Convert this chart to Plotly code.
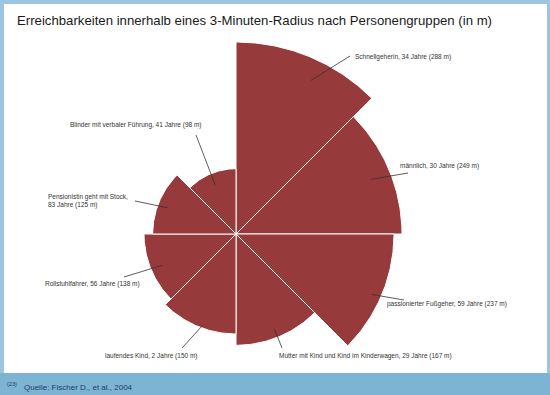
import numpy as np
import plotly.graph_objects as go

# ---- data ----
labels = [
    "Schnellgeherin, 34 Jahre (288 m)",
    "männlich, 30 Jahre (249 m)",
    "passionierter Fußgeher, 59 Jahre (237 m)",
    "Mutter mit Kind und Kind im Kinderwagen, 29 Jahre (167 m)",
    "laufendes Kind, 2 Jahre (150 m)",
    "Rollstuhlfahrer, 56 Jahre (138 m)",
    "Pensionistin geht mit Stock,<br>83 Jahre (125 m)",
    "Blinder mit verbaler Führung, 41 Jahre (98 m)",
]
distances = [288, 249, 237, 167, 150, 138, 125, 98]
title = "Erreichbarkeiten innerhalb eines 3-Minuten-Radius nach Personengruppen (in m)"
source = "Quelle: Fischer D., et al., 2004"

# ---- layout / style ----
W, H = 550, 395
CX, CY = 236, 234          # pixel position of the centre
R_PX = 192                 # pixel radius of the longest sector
S = R_PX / max(distances)  # pixels per metre
COLOR = "#963a3b"
FONT = "Liberation Sans"

# leader line: tip angle (deg, clockwise from north), tip fraction of radius, tail pixel
tip_angle = [26, 68, 114, 158, 200, 247, 291, 337]
tip_frac = [0.89, 0.88, 0.94, 0.92, 0.97, 0.87, 0.88, 0.82]
tail_px = [(350, 56), (408, 173), (404, 300), (282, 348), (182, 348), (124, 277), (135, 201), (196, 135)]
text_px = [(353, 57), (398, 166), (385, 304), (277, 356), (103, 356), (43, 284), (46, 201), (68, 125)]


def px2data(px, py):
    return (px - CX) / S, (CY - py) / S


def px2paper(px, py):
    return px / W, 1 - py / H


fig = go.Figure()
n = len(distances)
step = 360 / n
for i, d in enumerate(distances):
    a = np.radians(np.linspace(i * step, (i + 1) * step, 80))
    xs = np.concatenate([[0], d * np.sin(a), [0]])
    ys = np.concatenate([[0], d * np.cos(a), [0]])
    fig.add_trace(go.Scatter(x=xs, y=ys, mode="lines", fill="toself",
                             fillcolor=COLOR, line=dict(color="white", width=1),
                             hoverinfo="skip", showlegend=False))

shapes = [
    dict(type="rect", xref="paper", yref="paper", x0=4 / W, x1=547 / W,
         y0=1 - 373 / H, y1=1 - 4 / H, fillcolor="white", line=dict(width=0), layer="below"),
    dict(type="rect", xref="paper", yref="paper", x0=0, x1=1,
         y0=0, y1=1 - 373 / H, fillcolor="#7db3d3", line=dict(width=0), layer="below"),
]
annotations = []
for i, d in enumerate(distances):
    th = np.radians(tip_angle[i])
    r = d * tip_frac[i]
    x0, y0 = r * np.sin(th), r * np.cos(th)
    x1, y1 = px2data(*tail_px[i])
    shapes.append(dict(type="line", x0=x0, y0=y0, x1=x1, y1=y1,
                       line=dict(color="#333333", width=0.8)))
    tx, ty = px2paper(*text_px[i])
    annotations.append(dict(text=labels[i], x=tx, y=ty, xref="paper", yref="paper",
                            xanchor="left", yanchor="middle", align="left", showarrow=False,
                            font=dict(family=FONT, size=6.5, color="#333333")))

annotations.append(dict(text=title, x=15 / W, y=1 - 20 / H, xref="paper", yref="paper",
                        xanchor="left", yanchor="middle", showarrow=False,
                        font=dict(family=FONT, size=13.2, color="#1a1a1a")))
annotations.append(dict(text="(23)", x=5 / W, y=1 - 384 / H, xref="paper", yref="paper",
                        xanchor="left", yanchor="middle", showarrow=False,
                        font=dict(family=FONT, size=5.5, color="#1f3a6a")))
annotations.append(dict(text=source, x=22 / W, y=1 - 387 / H, xref="paper", yref="paper",
                        xanchor="left", yanchor="middle", showarrow=False,
                        font=dict(family=FONT, size=8, color="#1f3a6a")))

fig.update_layout(
    width=W, height=H, margin=dict(l=0, r=0, t=0, b=0),
    paper_bgcolor="#9cc5de", plot_bgcolor="rgba(0,0,0,0)",
    xaxis=dict(range=[-CX / S, (W - CX) / S], visible=False, fixedrange=True),
    yaxis=dict(range=[-(H - CY) / S, CY / S], visible=False, fixedrange=True),
    shapes=shapes, annotations=annotations, showlegend=False,
)
fig.write_html("out.html", config={"displayModeBar": False},
               post_script="document.body.style.margin='0';")
